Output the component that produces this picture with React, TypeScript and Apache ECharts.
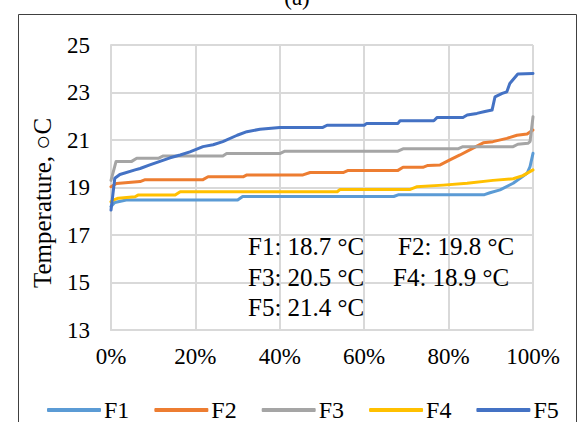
import React, { useEffect, useRef } from "react";
import * as echarts from "echarts";

const seriesNames = ["F1", "F2", "F3", "F4", "F5"];
const seriesColors = ["#5B9BD5", "#ED7D31", "#A5A5A5", "#FFC000", "#4472C4"];

const f1Pct = [0, 0.9, 3.6, 30, 31.2, 67, 68.2, 88.5, 89.8, 92.2, 95.3, 98.6, 99.3, 100];
const f1Temp = [18.2, 18.37, 18.47, 18.47, 18.62, 18.62, 18.7, 18.7, 18.78, 18.9, 19.18, 19.6, 19.88, 20.44];

const f2Pct = [0, 1.3, 6.9, 8.1, 21.8, 23, 31.3, 32.2, 45.5, 47.2, 55, 56.2, 68, 69.2, 73.9, 75.1, 78, 80.3, 82.7, 85.8, 88.2, 90.5, 93.8, 96.2, 98.6, 100];
const f2Temp = [19.03, 19.17, 19.25, 19.33, 19.33, 19.45, 19.45, 19.53, 19.53, 19.63, 19.63, 19.72, 19.72, 19.85, 19.85, 19.93, 19.95, 20.16, 20.37, 20.66, 20.88, 20.93, 21.07, 21.2, 21.25, 21.42];

const f3Pct = [0, 1.2, 4.9, 6.1, 11.2, 12.4, 26.5, 27.4, 40, 41.2, 68, 69.2, 82.2, 83.4, 95.3, 96.4, 98.8, 99.3, 100];
const f3Temp = [19.3, 20.1, 20.1, 20.23, 20.23, 20.33, 20.33, 20.43, 20.43, 20.53, 20.53, 20.63, 20.63, 20.72, 20.72, 20.82, 20.86, 20.93, 21.98];

const f4Pct = [0, 0.5, 1.7, 5.7, 6.4, 15.2, 16.4, 53.6, 54.3, 70.9, 72.4, 78.7, 84.4, 90.5, 95.3, 97.6, 100];
const f4Temp = [18.4, 18.47, 18.55, 18.61, 18.68, 18.68, 18.82, 18.82, 18.92, 18.92, 19.03, 19.1, 19.18, 19.3, 19.37, 19.5, 19.74];

const f5Pct = [0, 0.9, 2.1, 5.7, 6.9, 9.2, 11.6, 14, 16.4, 18.7, 21.8, 24.2, 26.5, 29.9, 32.2, 35.3, 40, 50.2, 51.2, 60, 60.6, 68, 68.5, 76.5, 77.3, 83.4, 84.4, 86.7, 88.6, 90.3, 91, 92.7, 93.8, 94.5, 96.4, 100];
const f5Temp = [18.05, 19.39, 19.55, 19.74, 19.8, 19.95, 20.1, 20.25, 20.37, 20.5, 20.72, 20.8, 20.93, 21.2, 21.35, 21.45, 21.53, 21.53, 21.62, 21.62, 21.7, 21.7, 21.81, 21.81, 21.95, 21.95, 22.05, 22.12, 22.2, 22.26, 22.82, 22.96, 23.03, 23.38, 23.78, 23.8];

const allPct = [f1Pct, f2Pct, f3Pct, f4Pct, f5Pct];
const allTemp = [f1Temp, f2Temp, f3Temp, f4Temp, f5Temp];

const annotationRows = [
  ["F1: 18.7 °C", "F2: 19.8 °C"],
  ["F3: 20.5 °C", "F4: 18.9 °C"],
  ["F5: 21.4 °C", ""],
];

const titleText = "(a)";
const yAxisTitle = "Temperature, ○C";

const FONT = "'Liberation Serif', 'Times New Roman', Times, serif";

export default function App() {
  const ref = useRef<HTMLDivElement>(null);

  useEffect(() => {
    if (!ref.current) return;
    const chart = echarts.init(ref.current, null, { renderer: "svg" });

    const series = seriesNames.map((name, i) => ({
      name,
      type: "line",
      data: allPct[i].map((p, j) => [p, allTemp[i][j]]),
      showSymbol: false,
      symbol: "none",
      lineStyle: { color: seriesColors[i], width: 3, join: "round", cap: "round" },
      itemStyle: { color: seriesColors[i] },
      z: 2 + i,
    }));

    const annot: any[] = [];
    const rowY = [246, 277, 307];
    const colX = [[248, 398], [248, 393], [248, 0]];
    annotationRows.forEach((row, r) => {
      row.forEach((t, c) => {
        if (!t) return;
        annot.push({
          type: "text",
          x: colX[r][c],
          y: rowY[r],
          z: 10,
          style: {
            text: t,
            fill: "#000",
            font: `25px ${FONT}`,
            textAlign: "left",
            textVerticalAlign: "middle",
          },
        });
      });
    });

    const option: any = {
      animation: false,
      backgroundColor: "#fff",
      grid: { left: 111, right: 46, top: 45, bottom: 92 },
      xAxis: {
        type: "value",
        min: 0,
        max: 100,
        interval: 20,
        axisLabel: {
          formatter: "{value}%",
          fontSize: 23,
          color: "#000",
          fontFamily: FONT,
          margin: 15,
        },
        axisLine: { show: true, lineStyle: { color: "#d9d9d9", width: 2 } },
        axisTick: { show: false },
        splitLine: { show: true, lineStyle: { color: "#d9d9d9", width: 2 } },
      },
      yAxis: {
        type: "value",
        min: 13,
        max: 25,
        interval: 2,
        axisLabel: {
          fontSize: 23,
          color: "#000",
          fontFamily: FONT,
          margin: 21,
        },
        axisLine: { show: true, lineStyle: { color: "#d9d9d9", width: 2 } },
        axisTick: { show: false },
        splitLine: { show: true, lineStyle: { color: "#d9d9d9", width: 2 } },
      },
      legend: {
        data: seriesNames,
        left: 42,
        top: 393,
        icon: "roundRect",
        itemWidth: 54,
        itemHeight: 4,
        itemGap: 25,
        textStyle: { fontSize: 24, color: "#000", fontFamily: FONT, lineHeight: 24, padding: [0, 0, 0, -2] },
      },
      series,
      graphic: [
        {
          type: "rect",
          shape: { x: 18.5, y: 14.5, width: 558, height: 440 },
          style: { fill: "none", stroke: "#404040", lineWidth: 1 },
          z: 0,
        },
        {
          type: "text",
          x: 297,
          y: -3,
          style: {
            text: titleText,
            fill: "#000",
            font: `23px ${FONT}`,
            textAlign: "center",
            textVerticalAlign: "middle",
          },
        },
        {
          type: "text",
          x: 42,
          y: 203,
          rotation: Math.PI / 2,
          style: {
            text: yAxisTitle,
            fill: "#000",
            font: `25px ${FONT}`,
            textAlign: "center",
            textVerticalAlign: "middle",
          },
        },
        ...annot,
      ],
    };

    chart.setOption(option);
    return () => chart.dispose();
  }, []);

  return (
    <div
      ref={ref}
      style={{ position: "fixed", left: 0, top: 0, width: 579, height: 422, background: "#fff" }}
    />
  );
}
